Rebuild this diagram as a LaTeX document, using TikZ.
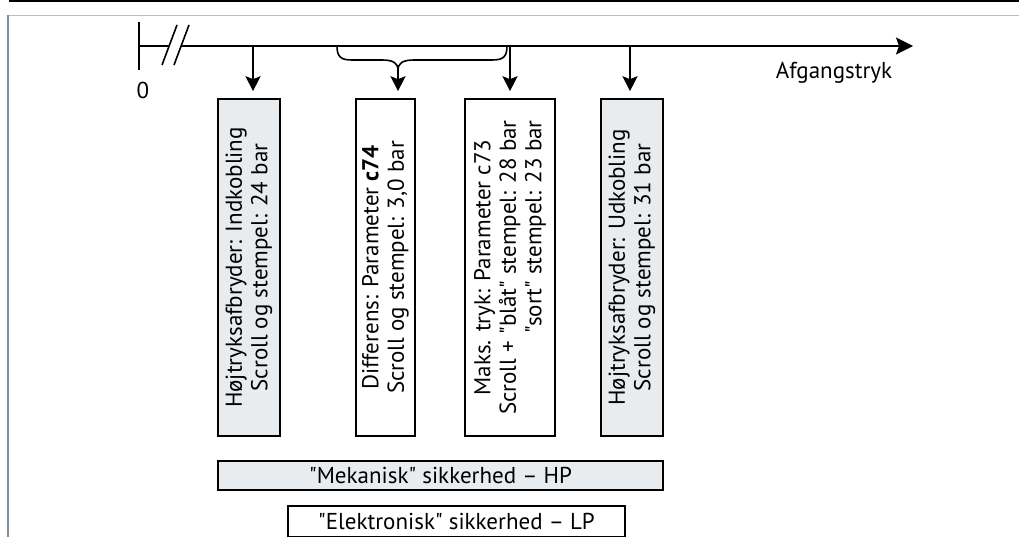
\documentclass[tikz,border=0pt]{standalone}
\usepackage{fontspec}
\setmainfont{PT Sans}[Ligatures=TeXOff]
\usetikzlibrary{arrows.meta}
\definecolor{boxgrey}{HTML}{E8ECEF}
\definecolor{frametop}{HTML}{B4C0C8}
\definecolor{frameleft}{HTML}{7F8F9C}
\newcommand{\boxfont}{\fontsize{23}{25.5}\selectfont}
\newlength\lenB
\begin{document}
\settowidth\lenB{\boxfont Scroll + "blåt" stempel: 28 bar}%
\begin{tikzpicture}[x=1pt,y=-1pt,
  line width=1.6pt,
  txt/.style={font=\boxfont},
  vbox/.style={draw=black, line width=1.6pt, rotate=90, align=center, inner sep=0pt,
    font=\boxfont},
  hbox/.style={draw=black, line width=1.6pt, align=center, inner sep=0pt,
    font=\boxfont},
  grey/.style={fill=boxgrey},
  arr/.style={-{Stealth[length=15pt,width=15pt,inset=3pt]}},
  bigarr/.style={-{Stealth[length=17pt,width=17pt,inset=3pt]}}
]
\useasboundingbox (0,0) rectangle (1019,537);
% frame
\coordinate (tl) at (9,0.8);
\coordinate (tr) at (1019,0.8);
\draw[line width=1.8pt] (tl) -- (tr);
\coordinate (f1) at (8,15.5);
\coordinate (f2) at (1019,15.5);
\coordinate (f3) at (8,537);
\draw[frametop, line width=1.2pt] (f1) -- (f2);
\draw[frameleft, line width=1.2pt] (f1) -- (f3);

% axis
\coordinate (t0) at (139,22);
\coordinate (t1) at (139,70);
\coordinate (ax0) at (139,46);
\coordinate (s1a) at (162,65);
\coordinate (s1b) at (177,25);
\coordinate (s2a) at (174,65);
\coordinate (s2b) at (189,25);
\coordinate (ax1) at (169,46);
\coordinate (ax2) at (181,46);
\coordinate (axend) at (913,46);
\draw (t0) -- (t1);
\draw (ax0) -- (ax1);
\draw (s1a) -- (s1b);
\draw (s2a) -- (s2b);
\draw[bigarr] (ax2) -- (axend);
\node[txt, anchor=center] (zero) at (143,90) {0};
\node[txt, anchor=center] (afg) at (834,73) {Afgangstryk};

% boxes
\node[vbox, grey, minimum width=337pt, minimum height=62pt] (b1) at (249,267.5)
  {Højtryksafbryder: Indkobling\\Scroll og stempel: 24 bar};
\node[vbox, minimum width=337pt, minimum height=59pt] (b2) at (385.5,267.5)
  {Differens: Parameter \textbf{c74}\\Scroll og stempel: 3,0 bar};
\node[vbox, minimum width=337pt, minimum height=90pt] (b3) at (510,267.5)
  {Maks. tryk: Parameter c73\\Scroll + "blåt" stempel: 28 bar\\\makebox[\lenB][r]{"sort" stempel: 23 bar}};
\node[vbox, grey, minimum width=337pt, minimum height=62pt] (b4) at (632,267.5)
  {Højtryksafbryder: Udkobling\\Scroll og stempel: 31 bar};

\node[hbox, grey, minimum width=445pt, minimum height=29pt] (mek) at (440.5,475.5)
  {"Mekanisk" sikkerhed – HP};
\node[hbox, minimum width=337pt, minimum height=31pt, anchor=north] (ele) at (456.5,505)
  {"Elektronisk" sikkerhed – LP};

% brace
\coordinate (brL) at (337,46);
\coordinate (brR) at (507,46);
\coordinate (brtip) at (398,70);
\draw (brL) .. controls (337,57) and (341,60) .. (352,60) -- (382,60)
  .. controls (393,60) and (398,63) .. (brtip)
  .. controls (398,63) and (403,60) .. (414,60) -- (492,60)
  .. controls (503,60) and (507,57) .. (brR);

% arrows
\coordinate (a1) at (253,46);
\coordinate (a3) at (510,46);
\coordinate (a4) at (630,46);
\draw[arr, shorten >=7pt] (a1) -- (a1 |- b1.east);
\draw[arr, shorten >=7pt] (brtip) -- (brtip |- b2.east);
\draw[arr, shorten >=7pt] (a3) -- (a3 |- b3.east);
\draw[arr, shorten >=7pt] (a4) -- (a4 |- b4.east);
\end{tikzpicture}
\end{document}
